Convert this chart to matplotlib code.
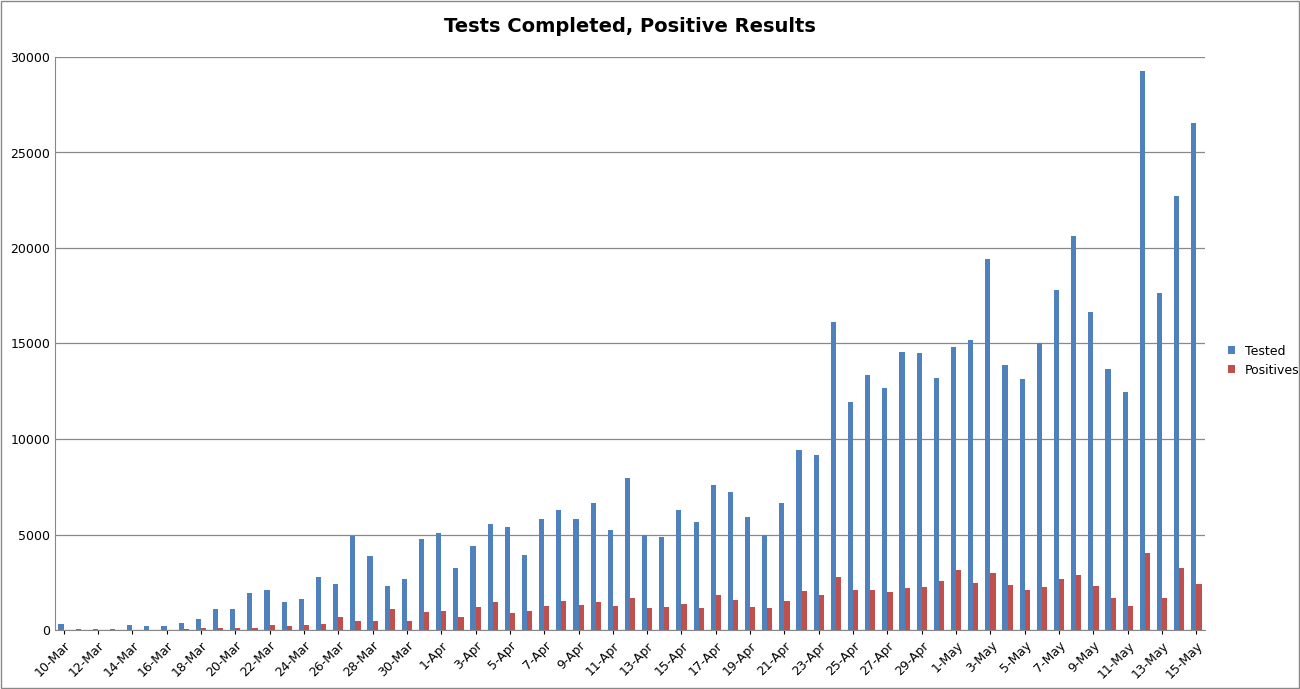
import matplotlib
matplotlib.use("Agg")
import matplotlib.pyplot as plt
import numpy as np

dates = [f"{d}-Mar" for d in range(10, 32)] + [f"{d}-Apr" for d in range(1, 31)] + [f"{d}-May" for d in range(1, 16)]
tested = [300, 50, 50, 50, 250, 200, 200, 350, 550, 1100, 1100, 1950, 2100, 1450, 1600, 2750, 2400, 4900, 3850, 2300, 2650, 4750,
          5100, 3250, 4400, 5550, 5400, 3950, 5800, 6300, 5800, 6650, 5250, 7950, 5000, 4850, 6300, 5650, 7600, 7200, 5900, 5000,
          6650, 9400, 9150, 16100, 11950, 13350, 12650, 14550, 14500, 13200,
          14800, 15200, 19400, 13850, 13150, 15000, 17800, 20650, 16650, 13650, 12450, 29250, 17650, 22700, 26550]
positives = [20, 10, 10, 10, 20, 20, 20, 30, 80, 80, 130, 130, 260, 200, 280, 320, 690, 480, 480, 1100, 480, 950,
             980, 680, 1200, 1450, 900, 1000, 1250, 1530, 1300, 1480, 1250, 1660, 1150, 1200, 1350, 1150, 1820, 1560, 1200, 1150,
             1500, 2050, 1850, 2750, 2100, 2100, 2000, 2200, 2250, 2550,
             3150, 2450, 3000, 2350, 2100, 2250, 2650, 2900, 2300, 1650, 1250, 4050, 1650, 3250, 2400]

fig = plt.figure(figsize=(13, 6.89), dpi=100)
ax = fig.add_axes([55/1300, 1-630/689, 1150/1300, 573/689])
x = np.arange(len(dates))
w = 0.3
ax.bar(x - w/2, tested, w, color="#4F81BD", label="Tested", zorder=3)
ax.bar(x + w/2, positives, w, color="#C0504D", label="Positives", zorder=3)
ax.set_ylim(0, 30000)
ax.set_yticks(range(0, 30001, 5000))
ax.set_xlim(-0.5, len(dates) - 0.5)
ax.set_xticks(x[::2])
ax.set_xticklabels(dates[::2], rotation=45, ha="right", rotation_mode="anchor", fontsize=9)
ax.tick_params(axis="y", labelsize=9, length=0)
ax.tick_params(axis="x", length=3)
ax.grid(axis="y", color="#888888", linewidth=0.9, zorder=0)
for s in ["top", "right"]:
    ax.spines[s].set_visible(False)
ax.spines["left"].set_color("#888888")
ax.spines["bottom"].set_color("#888888")
ax.set_title("Tests Completed, Positive Results", fontsize=14, fontweight="bold", pad=18)
ax.legend(loc="center left", bbox_to_anchor=(1.01, 0.47), frameon=False, fontsize=9, handlelength=0.6, handleheight=0.6)
fig.patches.append(plt.Rectangle((0.001, 0.001), 0.998, 0.998, transform=fig.transFigure, fill=False, edgecolor="#888888", linewidth=1))
fig.savefig("out.png", dpi=100)
